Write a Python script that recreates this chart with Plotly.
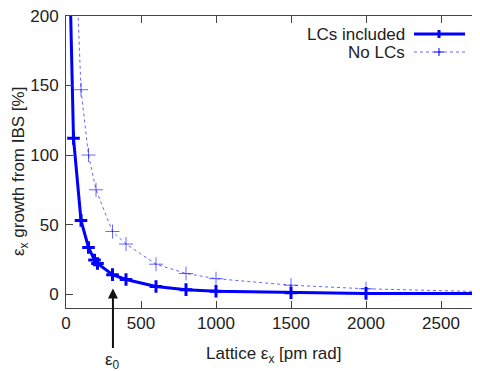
import plotly.graph_objects as go

# data
lc_x = [25, 50, 100, 150, 190, 210, 310, 400, 600, 800, 1000, 1500, 2000, 3000]
lc_y = [230, 112, 53, 33.5, 24.5, 22, 14, 10.5, 5.5, 3.2, 2.0, 1.0, 0.5, 0.3]
nolc_x = [50, 100, 150, 200, 310, 400, 600, 800, 1000, 1500, 2000, 3000]
nolc_y = [285, 147, 100, 75, 45, 36, 21.5, 14.8, 11.1, 6.4, 3.8, 1.2]
x_ticks = [0, 500, 1000, 1500, 2000, 2500]
y_ticks = [0, 50, 100, 150, 200]
eps0_x = 313

BLUE = "#0000ff"
FONT = "Liberation Sans, Arial, sans-serif"
FS = 17
OFF = 8  # default page body margin
W, H = 480 - OFF, 371 - OFF
L, T, B = 66 - OFF, 16 - OFF, 63
pw, ph = W - L, H - T - B

fig = go.Figure()
fig.add_trace(go.Scatter(x=nolc_x, y=nolc_y, mode="lines+markers", name="No LCs",
                         line=dict(color="rgba(0,0,255,0.6)", width=1, dash="dot"),
                         marker=dict(symbol="cross-thin-open", size=10, line=dict(color=BLUE, width=1)),
                         showlegend=False))
fig.add_trace(go.Scatter(x=lc_x, y=lc_y, mode="lines+markers", name="LCs included",
                         line=dict(color=BLUE, width=3),
                         marker=dict(symbol="cross-thin-open", size=9, line=dict(color=BLUE, width=3)),
                         showlegend=False))
# invisible trace to drive right axis ticks
fig.add_trace(go.Scatter(x=[0], y=[0], yaxis="y2", mode="markers", marker=dict(opacity=0),
                         showlegend=False, hoverinfo="skip"))

axis_common = dict(showgrid=False, zeroline=False, ticks="inside", ticklen=7,
                   tickcolor="#444", linecolor="#444", linewidth=1, automargin=False,
                   ticklabeloverflow="allow",
                   tickfont=dict(family=FONT, size=FS, color="#222"))

fig.update_layout(
    width=W, height=H, margin=dict(l=L, r=0, t=T, b=B),
    plot_bgcolor="white", paper_bgcolor="white",
    xaxis=dict(range=[0, 2760], tickvals=x_ticks, showline=True, mirror="ticks", **axis_common),
    yaxis=dict(range=[-10, 200], tickvals=y_ticks, showline=True, mirror=False,
               ticklabelstandoff=3, **axis_common),
    yaxis2=dict(range=[-10, 200], tickvals=y_ticks, overlaying="y", side="right", automargin=False,
                showline=False, showticklabels=False, showgrid=False, zeroline=False,
                ticks="inside", ticklen=7, tickcolor="#444"),
)

# positions in page pixels -> paper coords
def px2x(p):
    return (p - OFF - L) / pw

def py2y(p):
    return (H - B - (p - OFF)) / ph

# axis titles
fig.add_annotation(x=px2x(273), y=py2y(355), xref="paper", yref="paper",
                   text="Lattice ε<sub>x</sub> [pm rad]", showarrow=False,
                   xanchor="center", yanchor="middle", font=dict(family=FONT, size=FS, color="#222"))
fig.add_annotation(x=px2x(20), y=py2y(172), xref="paper", yref="paper",
                   text="ε<sub>x</sub> growth from IBS [%]", showarrow=False, textangle=-90,
                   xanchor="center", yanchor="middle", font=dict(family=FONT, size=FS, color="#222"))

# epsilon_0 arrow
fig.add_annotation(x=eps0_x, y=4, xref="x", yref="y", text="ε<sub>0</sub>",
                   showarrow=True, ax=0, ay=72, arrowhead=2, arrowsize=1, arrowwidth=2,
                   arrowcolor="#111", font=dict(family=FONT, size=FS, color="#222"))

# manual legend (gnuplot style: text then sample)
rows = [("LCs included", 34, 3, 8), ("No LCs", 52, 1, 8)]
for text, yy, lw, ch in rows:
    fig.add_annotation(x=px2x(407), y=py2y(yy), xref="paper", yref="paper", text=text,
                       showarrow=False, xanchor="right", yanchor="middle",
                       font=dict(family=FONT, size=FS, color="#222"))
    fig.add_shape(type="line", xref="paper", yref="paper", x0=px2x(414), x1=px2x(465),
                  y0=py2y(yy), y1=py2y(yy),
                  line=dict(color=BLUE if lw > 1 else "rgba(0,0,255,0.6)", width=lw,
                            dash="solid" if lw > 1 else "dot"))
    fig.add_shape(type="line", xref="paper", yref="paper", x0=px2x(439), x1=px2x(439),
                  y0=py2y(yy - ch / 2), y1=py2y(yy + ch / 2),
                  line=dict(color=BLUE, width=lw))
    if lw == 1:
        fig.add_shape(type="line", xref="paper", yref="paper", x0=px2x(434), x1=px2x(444),
                      y0=py2y(yy), y1=py2y(yy), line=dict(color=BLUE, width=1))

fig.write_html("out.html")
